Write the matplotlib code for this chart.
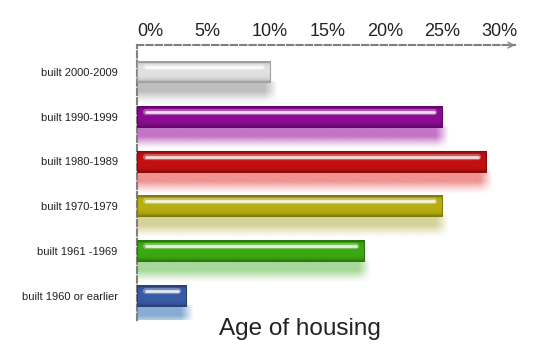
import matplotlib.pyplot as plt
import numpy as np
from matplotlib.colors import to_rgb

plt.rcParams['font.family'] = ['Liberation Sans', 'DejaVu Sans']

labels = ['built 2000-2009', 'built 1990-1999', 'built 1980-1989',
          'built 1970-1979', 'built 1961 -1969', 'built 1960 or earlier']
values = [11.6, 26.6, 30.4, 26.6, 19.8, 4.3]
colors = ['#e2e2e2', '#8c0c94', '#c41010', '#b8b010', '#3caa12', '#3a5ca8']
glow = ['#bbbbbb', '#c06cc4', '#ee8c8c', '#d4d096', '#a2d694', '#82a8d0']
ticks = [0, 5, 10, 15, 20, 25, 30]

fig = plt.figure(figsize=(5.5, 3.5), dpi=100)
ax = fig.add_axes([0.249, 0.086, 0.687, 0.785])

h = 0.45
n = 60
t = np.linspace(0, 1, n)[:, None]

for i, (v, c, g) in enumerate(zip(values, colors, glow)):
    base = np.array(to_rgb(c))
    # glossy body: darker rim at top and bottom
    shade = 1 - 0.35 * np.exp(-t / 0.08) - 0.3 * np.exp(-(1 - t) / 0.1)
    body = np.clip(base[None, None, :] * shade[:, :, None], 0, 1)
    body = np.repeat(body, 2, axis=1)
    ax.imshow(body, extent=(0, v, i + h / 2, i - h / 2), origin='upper',
              aspect='auto', interpolation='bilinear', zorder=3)
    ax.add_patch(plt.Rectangle((0, i - h / 2), v, h, fill=False,
                               ec=base * 0.7, lw=0.8, zorder=4))
    # highlight stripe
    hy = i - h * 0.24
    ax.plot([0.8, v - 0.7], [hy, hy], color='white', lw=4.5, alpha=0.3,
            solid_capstyle='round', zorder=5)
    ax.plot([0.8, v - 0.7], [hy, hy], color='white', lw=2, alpha=0.8,
            solid_capstyle='round', zorder=5)
    # soft reflection below the bar
    m = 120
    xr = np.linspace(0, v + 0.6, m)[None, :]
    tr = np.linspace(0, 1, n)[:, None]
    a = np.clip(0.7 + tr / 0.15 * 0.3, 0, 1) * np.clip((1 - tr) / 0.55, 0, 1) ** 1.3
    a = a * np.clip((v + 0.6 - xr) / 1.1, 0, 1)
    refl = np.zeros((n, m, 4))
    refl[..., :3] = np.array(to_rgb(g))
    refl[..., 3] = 0.95 * a
    ax.imshow(refl, extent=(0, v + 0.6, i + h / 2 + h * 1.1, i + h / 2),
              origin='upper', aspect='auto', interpolation='bilinear', zorder=2)

ax.set_xlim(0, 32.9)
ax.set_ylim(5.54, -0.60)

ax.xaxis.tick_top()
ax.set_xticks(ticks)
ax.set_xticklabels([f'{k}%' for k in ticks], ha='left')
ax.tick_params(axis='x', length=0, pad=4, labelsize=13, colors='#222')
ax.set_yticks(range(len(labels)))
ax.set_yticklabels(labels)
ax.tick_params(axis='y', length=0, pad=14, labelsize=8, colors='#222')

for s in ['right', 'bottom']:
    ax.spines[s].set_visible(False)
for s in ['top', 'left']:
    ax.spines[s].set_linestyle((0, (3, 1.5)))
    ax.spines[s].set_color('#808080')
    ax.spines[s].set_linewidth(1.5)

ax.annotate('', xy=(1.008, 1), xytext=(0.97, 1), xycoords='axes fraction',
            arrowprops=dict(arrowstyle='->', color='#808080', lw=1.0),
            annotation_clip=False)

fig.text(0.545, 0.06, 'Age of housing', ha='center', va='center',
         fontsize=17.5, color='#222')

fig.savefig('out.png', dpi=100)
